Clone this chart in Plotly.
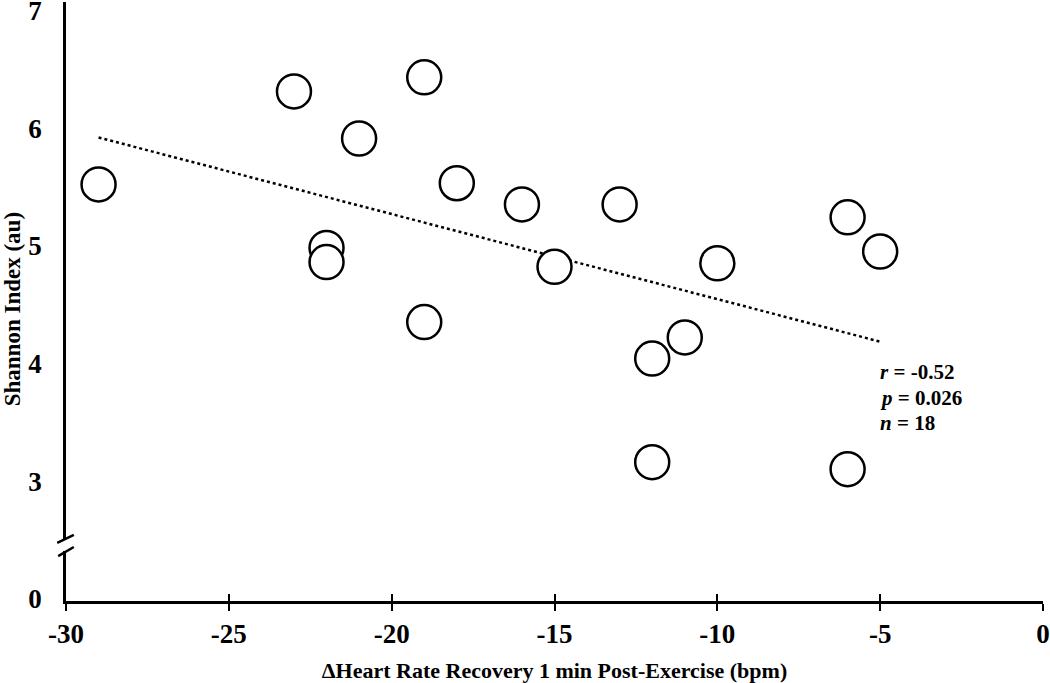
import numpy as np
import plotly.graph_objects as go

# Data
hrr = [-29, -23, -19, -21, -18, -22, -22, -19, -16, -15, -13, -10, -11, -12, -12, -6, -5, -6]
shannon = [5.54, 6.33, 6.45, 5.93, 5.55, 5.00, 4.88, 4.37, 5.37, 4.84, 5.37, 4.87, 4.24, 4.06, 3.18, 5.26, 4.97, 3.12]
y_tick_labels = ["0", "3", "4", "5", "6", "7"]
x_ticks = [-30, -25, -20, -15, -10, -5, 0]
stats_lines = ["<i>r</i> = -0.52", "<i>p</i> = 0.026", "<i>n</i> = 18"]

# Broken axis: 0 shown at position 0, values 3..7 at positions 1..5
def to_disp(v):
    v = np.asarray(v, dtype=float)
    return np.where(v >= 3, v - 2, v)

slope, intercept = np.polyfit(hrr, shannon, 1)
fit_x = np.array([min(hrr), max(hrr)])
fit_y = slope * fit_x + intercept

FONT = "Liberation Serif"

fig = go.Figure()
fig.add_trace(go.Scatter(
    x=fit_x, y=to_disp(fit_y), mode="lines",
    line=dict(color="black", width=2.5, dash="dot"),
    showlegend=False, hoverinfo="skip"))
fig.add_trace(go.Scatter(
    x=hrr, y=to_disp(shannon), mode="markers",
    marker=dict(size=34, color="white", line=dict(color="black", width=2.5)),
    showlegend=False))
# invisible trace to activate the overlay axis for crossing ticks
fig.add_trace(go.Scatter(x=[x_ticks[0]], y=[0], xaxis="x2", mode="markers",
                         marker=dict(opacity=0), showlegend=False, hoverinfo="skip"))

fig.update_layout(
    width=1050, height=683,
    margin=dict(l=66, r=7, t=2, b=82, autoexpand=False),
    paper_bgcolor="white", plot_bgcolor="white",
    font=dict(family=FONT, color="black"),
    xaxis=dict(
        range=[-30, 0], tickvals=x_ticks, ticktext=[str(v) for v in x_ticks],
        showgrid=False, zeroline=False, showline=True, linecolor="black", linewidth=2.5,
        ticks="outside", ticklen=7, tickwidth=2, tickcolor="black", automargin=False,
        tickfont=dict(family=FONT, size=27, color="black", weight="bold"),
        ticklabelstandoff=0, ticklabeloverflow="allow",
        title=dict(text="<b>\u0394Heart Rate Recovery 1 min Post-Exercise (bpm)</b>",
                   font=dict(family=FONT, size=22, color="black")),
    ),
    xaxis2=dict(
        overlaying="x", matches="x", range=[-30, 0], tickvals=x_ticks,
        showticklabels=False, showgrid=False, zeroline=False, automargin=False,
        ticks="inside", ticklen=7, tickwidth=2, tickcolor="black", side="bottom",
    ),
    yaxis=dict(
        range=[0, 5.09], tickvals=[0, 1, 2, 3, 4, 5], ticktext=y_tick_labels,
        showgrid=False, zeroline=False, showline=True, linecolor="black", linewidth=2.5,
        ticks="", ticklabelstandoff=16, ticklabelshift=-2, ticklabeloverflow="allow",
        automargin=False,
        tickfont=dict(family=FONT, size=27, color="black", weight="bold"),
    ),
)

# Y-axis title as rotated annotation
fig.add_annotation(
    x=-0.0553, y=0.487, xref="paper", yref="paper", xanchor="center", yanchor="middle",
    text="<b>Shannon Index (au)</b>", textangle=-90, showarrow=False,
    font=dict(family=FONT, size=23, color="black"))

# Axis break marks
fig.add_shape(type="rect", xref="paper", yref="y", x0=-0.004, x1=0.004, y0=0.425, y1=0.527,
              fillcolor="white", line=dict(width=0), layer="above")
fig.add_shape(type="line", xref="paper", yref="y", x0=-0.009, x1=0.008, y0=0.493, y1=0.561,
              line=dict(color="black", width=2.5), layer="above")
fig.add_shape(type="line", xref="paper", yref="y", x0=-0.008, x1=0.008, y0=0.382, y1=0.459,
              line=dict(color="black", width=2.5), layer="above")

# Statistics text
stat_y = [1.946, 1.725, 1.512]
for txt, yy in zip(stats_lines, stat_y):
    fig.add_annotation(
        x=-5.07, y=yy, xref="x", yref="y", xanchor="left", yanchor="middle",
        text="<b>" + txt + "</b>", showarrow=False, align="left",
        font=dict(family=FONT, size=21, color="black"))

fig.write_html("out.html", config={"displayModeBar": False},
               post_script="document.body.style.margin='0';")
